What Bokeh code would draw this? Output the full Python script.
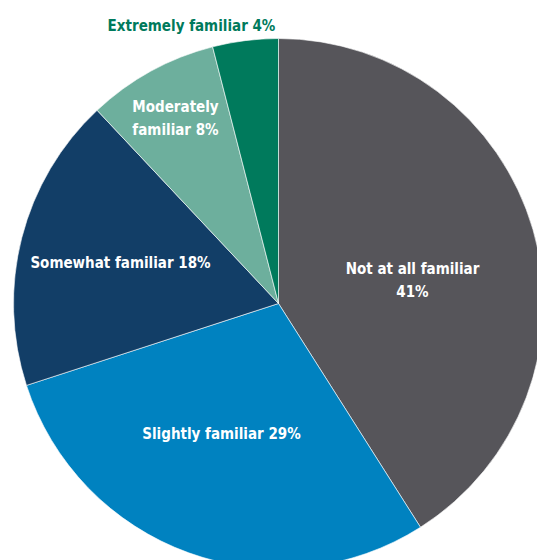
import math
from bokeh.plotting import figure
from bokeh.models import Range1d, ColumnDataSource
from bokeh.core.properties import value
from bokeh.embed import file_html
from bokeh.resources import INLINE

categories = ["Not at all familiar", "Slightly familiar", "Somewhat familiar",
              "Moderately familiar", "Extremely familiar"]
shares = [41, 29, 18, 8, 4]
colors = ["#56555a", "#0082c0", "#123e67", "#6daf9d", "#007a5c"]

# label texts (as in the chart) and their layout
label_texts = ["Not at all familiar\n41%", "Slightly familiar 29%", "Somewhat familiar 18%",
               "Moderately\nfamiliar 8%", "Extremely familiar 4%"]
label_colors = ["white", "white", "white", "white", "#007a5c"]
label_x = [412, 221, 120, 175, 191]
label_y = [-280, -433, -262, -118, -25]

W, H = 537, 560
cx, cy, r = 278, -303, 265

p = figure(width=W, height=H, x_range=Range1d(0, W), y_range=Range1d(-H, 0),
           output_backend="svg", toolbar_location=None, min_border=0)
p.axis.visible = False
p.grid.visible = False
p.outline_line_color = None
p.background_fill_color = "white"

total = sum(shares)
starts, ends = [], []
cum = 0.0
for s in shares:
    a0 = math.radians(90 - 360 * cum / total)
    cum += s
    a1 = math.radians(90 - 360 * cum / total)
    starts.append(a0)
    ends.append(a1)

src = ColumnDataSource(dict(start=starts, end=ends, color=colors, cat=categories))
p.wedge(x=cx, y=cy, radius=r, start_angle="start", end_angle="end", direction="clock",
        fill_color="color", line_color="white", line_width=0.6, source=src)

lsrc = ColumnDataSource(dict(x=label_x, y=label_y, t=label_texts, c=label_colors))
p.text(x="x", y="y", text="t", text_color="c", source=lsrc,
       text_font=value("DejaVu Sans Condensed"), text_font_style="bold",
       text_font_size="15px", text_align="center", text_baseline="middle",
       text_line_height=1.3)

open("out.html", "w").write(file_html(p, INLINE))
